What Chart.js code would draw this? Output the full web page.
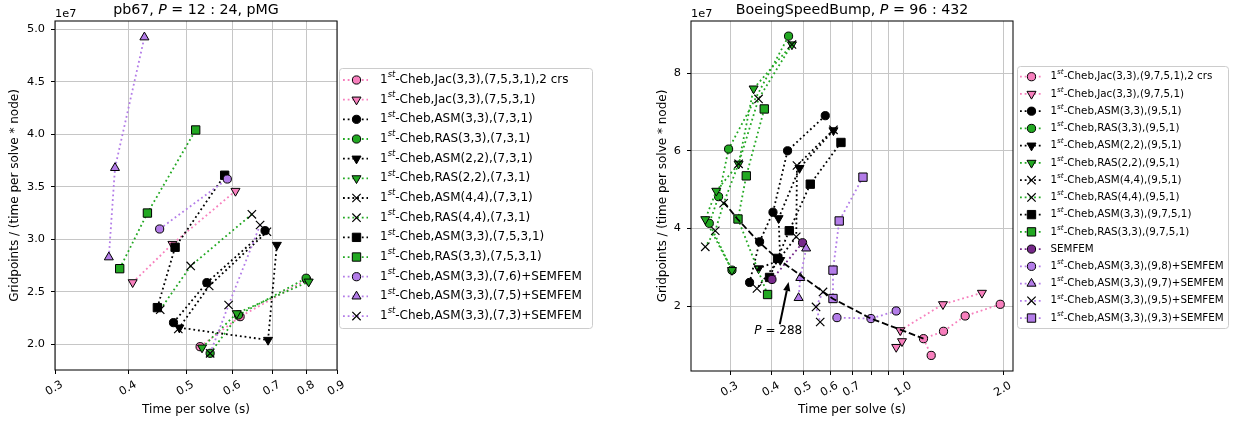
<!DOCTYPE html>
<html><head><meta charset="utf-8">
<script src="https://cdn.jsdelivr.net/npm/chart.js@4.4.0/dist/chart.umd.min.js"></script>
<style>
html,body{margin:0;padding:0;background:#fff;}
#wrap{position:relative;width:1233px;height:423px;overflow:hidden;background:#fff;}
#cA{position:absolute;left:0;top:0;}
#cB{position:absolute;left:648px;top:0;}
</style></head><body>
<div id="wrap"><canvas id="cA" width="620" height="423"></canvas><canvas id="cB" width="585" height="423"></canvas></div>
<script>
// ================= LEFT PANEL: pb67, P = 12:24, pMG  (y values in units of 1e7) =================
const pbXTicks = [0.3, 0.4, 0.5, 0.6, 0.7, 0.8, 0.9];
const pbXTickLabels = ['0.3', '0.4', '0.5', '0.6', '0.7', '0.8', '0.9'];
const pbYTicks = [2.0, 2.5, 3.0, 3.5, 4.0, 4.5, 5.0];
const pbYTickLabels = ['2.0', '2.5', '3.0', '3.5', '4.0', '4.5', '5.0'];
const pbLabels = [
  '1st-Cheb,Jac(3,3),(7,5,3,1),2 crs',
  '1st-Cheb,Jac(3,3),(7,5,3,1)',
  '1st-Cheb,ASM(3,3),(7,3,1)',
  '1st-Cheb,RAS(3,3),(7,3,1)',
  '1st-Cheb,ASM(2,2),(7,3,1)',
  '1st-Cheb,RAS(2,2),(7,3,1)',
  '1st-Cheb,ASM(4,4),(7,3,1)',
  '1st-Cheb,RAS(4,4),(7,3,1)',
  '1st-Cheb,ASM(3,3),(7,5,3,1)',
  '1st-Cheb,RAS(3,3),(7,5,3,1)',
  '1st-Cheb,ASM(3,3),(7,6)+SEMFEM',
  '1st-Cheb,ASM(3,3),(7,5)+SEMFEM',
  '1st-Cheb,ASM(3,3),(7,3)+SEMFEM'
];
const pbJac2crsX = [0.528, 0.617, 0.800], pbJac2crsY = [1.977, 2.263, 2.615];
const pbJacX     = [0.406, 0.474, 0.606], pbJacY     = [2.590, 2.955, 3.460];
const pbAsm33X   = [0.476, 0.542, 0.680], pbAsm33Y   = [2.206, 2.587, 3.082];
const pbRas33X   = [0.549, 0.613, 0.798], pbRas33Y   = [1.914, 2.279, 2.629];
const pbAsm22X   = [0.487, 0.688, 0.712], pbAsm22Y   = [2.158, 2.041, 2.946];
const pbRas22X   = [0.532, 0.609, 0.806], pbRas22Y   = [1.968, 2.295, 2.596];
const pbAsm44X   = [0.485, 0.547, 0.685], pbAsm44Y   = [2.146, 2.555, 3.072];
const pbRas44X   = [0.452, 0.509, 0.646], pbRas44Y   = [2.330, 2.746, 3.238];
const pbAsm33bX  = [0.447, 0.479, 0.581], pbAsm33bY  = [2.349, 2.924, 3.610];
const pbRas33bX  = [0.386, 0.430, 0.519], pbRas33bY  = [2.720, 3.250, 4.041];
const pbS76X     = [0.451, 0.587],        pbS76Y     = [3.098, 3.574];
const pbS75X     = [0.370, 0.379, 0.425], pbS75Y     = [2.829, 3.680, 4.924];
const pbS73X     = [0.549, 0.590, 0.667], pbS73Y     = [1.914, 2.374, 3.136];

// ================= RIGHT PANEL: BoeingSpeedBump, P = 96:432  (y values in units of 1e7) =================
const bbXTicks = [0.3, 0.4, 0.5, 0.6, 0.7, 0.8, 0.9, 1.0, 2.0];
const bbXTickLabels = ['0.3', '0.4', '0.5', '0.6', '0.7', '', '', '1.0', '2.0'];
const bbYTicks = [2, 4, 6, 8];
const bbYTickLabels = ['2', '4', '6', '8'];
const bbLabels = [
  '1st-Cheb,Jac(3,3),(9,7,5,1),2 crs',
  '1st-Cheb,Jac(3,3),(9,7,5,1)',
  '1st-Cheb,ASM(3,3),(9,5,1)',
  '1st-Cheb,RAS(3,3),(9,5,1)',
  '1st-Cheb,ASM(2,2),(9,5,1)',
  '1st-Cheb,RAS(2,2),(9,5,1)',
  '1st-Cheb,ASM(4,4),(9,5,1)',
  '1st-Cheb,RAS(4,4),(9,5,1)',
  '1st-Cheb,ASM(3,3),(9,7,5,1)',
  '1st-Cheb,RAS(3,3),(9,7,5,1)',
  'SEMFEM',
  '1st-Cheb,ASM(3,3),(9,8)+SEMFEM',
  '1st-Cheb,ASM(3,3),(9,7)+SEMFEM',
  '1st-Cheb,ASM(3,3),(9,5)+SEMFEM',
  '1st-Cheb,ASM(3,3),(9,3)+SEMFEM'
];
const bbJac2crsX = [1.954, 1.532, 1.318, 1.147, 1.210], bbJac2crsY = [2.050, 1.750, 1.355, 1.166, 0.735];
const bbJacX     = [1.721, 1.313, 0.976, 0.988, 0.949], bbJacY     = [2.343, 2.050, 1.381, 1.097, 0.950];
const bbAsm33X   = [0.580, 0.4465, 0.4035, 0.3677, 0.343], bbAsm33Y = [6.903, 6.000, 4.418, 3.659, 2.612];
const bbRas33X   = [0.4496, 0.2965, 0.2766, 0.2593, 0.3035], bbRas33Y = [8.950, 6.044, 4.820, 4.134, 2.929];
const bbAsm22X   = [0.614, 0.485, 0.4195, 0.4244, 0.365], bbAsm22Y = [6.524, 5.554, 4.263, 3.187, 2.973];
const bbRas22X   = [0.4603, 0.3527, 0.3178, 0.2722, 0.2522, 0.3035], bbRas22Y = [8.735, 7.600, 5.665, 4.968, 4.237, 2.929];
const bbAsm44X   = [0.614, 0.4766, 0.4743, 0.361], bbAsm44Y = [6.540, 5.621, 3.788, 2.457];
const bbRas44X   = [0.4603, 0.365, 0.3178, 0.2864, 0.2703, 0.2522], bbRas44Y = [8.735, 7.334, 5.665, 4.650, 3.943, 3.530];
const bbAsm33bX  = [0.6468, 0.5227, 0.4518, 0.4166, 0.394], bbAsm33bY = [6.214, 5.141, 3.943, 3.231, 2.741];
const bbRas33bX  = [0.3798, 0.3352, 0.3165, 0.3886], bbRas33bY = [7.076, 5.355, 4.245, 2.302];
const bbSemfemX  = [0.4955, 0.4007], bbSemfemY = [3.634, 2.689];
const bbS98X     = [0.949, 0.7965, 0.629], bbS98Y = [1.879, 1.683, 1.708];
const bbS97X     = [0.508, 0.4876, 0.482], bbS97Y = [3.489, 2.730, 2.214];
const bbS95X     = [0.571, 0.544, 0.560], bbS95Y = [2.369, 1.982, 1.595];
const bbS93X     = [0.7535, 0.639, 0.612, 0.612], bbS93Y = [5.321, 4.194, 2.929, 2.199];
const bbP288X    = [0.2864, 0.3153, 0.3668, 0.4153, 0.567, 0.610, 0.7965, 0.976, 1.147];
const bbP288Y    = [4.690, 4.245, 3.644, 3.231, 2.395, 2.199, 1.683, 1.400, 1.166];
const bbAnnotText = 'P = 288';
const bbAnnotTextXY = [0.4186, 1.355];
const bbAnnotTipXY = [0.4496, 2.627];

// ================= styling =================
const FONT = 'DejaVu Sans';
Chart.defaults.font.family = "'DejaVu Sans', sans-serif";
Chart.defaults.color = '#000';
const PINK = '#f77fbd', GREEN = '#22a822', PURPLE = '#b37ce8', DPURPLE = '#76288a', BLACK = '#000000';
const GRID = '#c6c6c6';
const DOT = [1.8, 2.9], DASH = [6.7, 2.9];
const TICKFONT = 11.3;
const MARKERS = {
  o:   {style: 'circle',   r: 4.1, rot: 0,   bw: 1},
  v:   {style: 'triangle', r: 5.2, rot: 180, bw: 1},
  '^': {style: 'triangle', r: 5.2, rot: 0,   bw: 1},
  s:   {style: 'rect',     r: 5.9, rot: 0,   bw: 1},
  x:   {style: 'crossRot', r: 5.9, rot: 0,   bw: 1.2},
  none:{style: 'circle',   r: 0,   rot: 0,   bw: 0}
};

const pbSeries = [
  {label: pbLabels[0],  x: pbJac2crsX, y: pbJac2crsY, line: PINK,   face: PINK,   mk: 'o'},
  {label: pbLabels[1],  x: pbJacX,     y: pbJacY,     line: PINK,   face: PINK,   mk: 'v'},
  {label: pbLabels[2],  x: pbAsm33X,   y: pbAsm33Y,   line: BLACK,  face: BLACK,  mk: 'o'},
  {label: pbLabels[3],  x: pbRas33X,   y: pbRas33Y,   line: GREEN,  face: GREEN,  mk: 'o'},
  {label: pbLabels[4],  x: pbAsm22X,   y: pbAsm22Y,   line: BLACK,  face: BLACK,  mk: 'v'},
  {label: pbLabels[5],  x: pbRas22X,   y: pbRas22Y,   line: GREEN,  face: GREEN,  mk: 'v'},
  {label: pbLabels[6],  x: pbAsm44X,   y: pbAsm44Y,   line: BLACK,  face: BLACK,  mk: 'x'},
  {label: pbLabels[7],  x: pbRas44X,   y: pbRas44Y,   line: GREEN,  face: GREEN,  mk: 'x'},
  {label: pbLabels[8],  x: pbAsm33bX,  y: pbAsm33bY,  line: BLACK,  face: BLACK,  mk: 's'},
  {label: pbLabels[9],  x: pbRas33bX,  y: pbRas33bY,  line: GREEN,  face: GREEN,  mk: 's'},
  {label: pbLabels[10], x: pbS76X,     y: pbS76Y,     line: PURPLE, face: PURPLE, mk: 'o'},
  {label: pbLabels[11], x: pbS75X,     y: pbS75Y,     line: PURPLE, face: PURPLE, mk: '^'},
  {label: pbLabels[12], x: pbS73X,     y: pbS73Y,     line: PURPLE, face: PURPLE, mk: 'x'}
];
const bbSeries = [
  {label: bbLabels[0],  x: bbJac2crsX, y: bbJac2crsY, line: PINK,    face: PINK,    mk: 'o'},
  {label: bbLabels[1],  x: bbJacX,     y: bbJacY,     line: PINK,    face: PINK,    mk: 'v'},
  {label: bbLabels[2],  x: bbAsm33X,   y: bbAsm33Y,   line: BLACK,   face: BLACK,   mk: 'o'},
  {label: bbLabels[3],  x: bbRas33X,   y: bbRas33Y,   line: GREEN,   face: GREEN,   mk: 'o'},
  {label: bbLabels[4],  x: bbAsm22X,   y: bbAsm22Y,   line: BLACK,   face: BLACK,   mk: 'v'},
  {label: bbLabels[5],  x: bbRas22X,   y: bbRas22Y,   line: GREEN,   face: GREEN,   mk: 'v'},
  {label: bbLabels[6],  x: bbAsm44X,   y: bbAsm44Y,   line: BLACK,   face: BLACK,   mk: 'x'},
  {label: bbLabels[7],  x: bbRas44X,   y: bbRas44Y,   line: GREEN,   face: GREEN,   mk: 'x'},
  {label: bbLabels[8],  x: bbAsm33bX,  y: bbAsm33bY,  line: BLACK,   face: BLACK,   mk: 's'},
  {label: bbLabels[9],  x: bbRas33bX,  y: bbRas33bY,  line: GREEN,   face: GREEN,   mk: 's'},
  {label: bbLabels[10], x: bbSemfemX,  y: bbSemfemY,  line: DPURPLE, face: DPURPLE, mk: 'o'},
  {label: bbLabels[11], x: bbS98X,     y: bbS98Y,     line: PURPLE,  face: PURPLE,  mk: 'o'},
  {label: bbLabels[12], x: bbS97X,     y: bbS97Y,     line: PURPLE,  face: PURPLE,  mk: '^'},
  {label: bbLabels[13], x: bbS95X,     y: bbS95Y,     line: PURPLE,  face: PURPLE,  mk: 'x'},
  {label: bbLabels[14], x: bbS93X,     y: bbS93Y,     line: PURPLE,  face: PURPLE,  mk: 's'},
  {label: 'P = 288',    x: bbP288X,    y: bbP288Y,    line: BLACK,   face: BLACK,   mk: 'none', dash: DASH, noLegend: true, top: true}
];

function buildDatasets(series) {
  const n = series.length;
  return series.map((s, i) => {
    const m = MARKERS[s.mk];
    return {
      label: s.label,
      data: s.x.map((v, k) => ({x: v, y: s.y[k]})),
      showLine: true,
      borderColor: s.line,
      backgroundColor: s.face,
      borderWidth: 1.8,
      borderDash: s.dash || DOT,
      borderCapStyle: 'butt',
      pointStyle: m.style,
      pointRadius: m.r,
      pointHoverRadius: m.r,
      pointRotation: m.rot,
      pointBackgroundColor: s.face,
      pointBorderColor: '#000',
      pointBorderWidth: m.bw,
      order: s.top ? -1 : n - i,
      noLegend: !!s.noLegend
    };
  });
}

// rich text helper (italic / superscript pieces)
function drawRich(ctx, parts, x, y, size, align, baseline) {
  const fonts = parts.map(p => (p.it ? 'italic ' : '') + (p.sup ? size * 0.7 : size) + 'px "' + FONT + '"');
  const widths = parts.map((p, i) => { ctx.font = fonts[i]; return ctx.measureText(p.t).width; });
  const total = widths.reduce((a, b) => a + b, 0);
  let cx = align === 'center' ? x - total / 2 : x;
  ctx.textAlign = 'left';
  ctx.textBaseline = baseline || 'middle';
  ctx.fillStyle = '#000';
  parts.forEach((p, i) => {
    ctx.font = fonts[i];
    ctx.fillText(p.t, cx, p.sup ? y - size * 0.4 : y);
    cx += widths[i];
  });
}
function labelParts(label) {
  if (label.startsWith('1st')) return [{t: '1'}, {t: 'st', it: true, sup: true}, {t: label.slice(3)}];
  return [{t: label}];
}
function mathParts(text) { // leading italic P
  return [{t: text.charAt(0), it: true}, {t: text.slice(1)}];
}

function drawLegend(chart, L) {
  const ctx = chart.ctx;
  ctx.save();
  ctx.beginPath();
  if (ctx.roundRect) ctx.roundRect(L.x + 0.5, L.y + 0.5, L.w, L.h, 3); else ctx.rect(L.x + 0.5, L.y + 0.5, L.w, L.h);
  ctx.fillStyle = 'rgba(255,255,255,0.8)';
  ctx.fill();
  ctx.strokeStyle = '#cccccc';
  ctx.lineWidth = 1;
  ctx.stroke();
  let k = 0;
  chart.data.datasets.forEach(ds => {
    if (ds.noLegend) return;
    const y = L.y + L.first + k * L.step;
    k++;
    ctx.save();
    ctx.strokeStyle = ds.borderColor;
    ctx.lineWidth = ds.borderWidth;
    ctx.setLineDash(ds.borderDash);
    ctx.lineCap = 'butt';
    ctx.beginPath();
    ctx.moveTo(L.x + L.lx0, y);
    ctx.lineTo(L.x + L.lx1, y);
    ctx.stroke();
    ctx.setLineDash([]);
    ctx.fillStyle = ds.pointBackgroundColor;
    ctx.strokeStyle = ds.pointBorderColor;
    ctx.lineWidth = ds.pointBorderWidth;
    Chart.helpers.drawPoint(ctx, {pointStyle: ds.pointStyle, radius: ds.pointRadius, borderWidth: ds.pointBorderWidth, rotation: ds.pointRotation}, L.x + L.mx, y);
    ctx.restore();
    drawRich(ctx, labelParts(ds.label), L.x + L.tx, y, L.font, 'left', 'middle');
  });
  ctx.restore();
}

function panelPlugin(cfg) {
  return {
    id: 'panel' + cfg.id,
    afterDatasetsDraw(chart) {
      const ctx = chart.ctx, a = chart.chartArea;
      const xs = chart.scales.x, ys = chart.scales.y;
      ctx.save();
      if (cfg.annot) {
        const tx = xs.getPixelForValue(cfg.annot.text[0]), ty = ys.getPixelForValue(cfg.annot.text[1]);
        const px = xs.getPixelForValue(cfg.annot.tip[0]), py = ys.getPixelForValue(cfg.annot.tip[1]);
        drawRich(ctx, mathParts(cfg.annot.label), tx, ty, 12, 'center', 'middle');
        const sx = tx + 1.5, sy = ty - 7;
        const ang = Math.atan2(py - sy, px - sx);
        const hl = 9, hw = 3.6;
        const bx = px - hl * Math.cos(ang), by = py - hl * Math.sin(ang);
        ctx.strokeStyle = '#000'; ctx.fillStyle = '#000'; ctx.lineWidth = 2;
        ctx.beginPath(); ctx.moveTo(sx, sy); ctx.lineTo(bx, by); ctx.stroke();
        ctx.beginPath();
        ctx.moveTo(px, py);
        ctx.lineTo(bx + hw * Math.sin(ang), by - hw * Math.cos(ang));
        ctx.lineTo(bx - hw * Math.sin(ang), by + hw * Math.cos(ang));
        ctx.closePath(); ctx.fill();
      }
      // axes frame (spines)
      ctx.strokeStyle = '#111';
      ctx.lineWidth = 1.1;
      ctx.strokeRect(a.left, a.top, a.right - a.left, a.bottom - a.top);
      // title
      drawRich(ctx, cfg.title, (a.left + a.right) / 2, 13.5, 14.2, 'center', 'alphabetic');
      // offset text
      ctx.font = TICKFONT + 'px "' + FONT + '"';
      ctx.fillStyle = '#000';
      ctx.textAlign = 'left';
      ctx.textBaseline = 'alphabetic';
      ctx.fillText('1e7', a.left, 17);
      ctx.restore();
    },
    afterDraw(chart) {
      drawLegend(chart, cfg.legend);
    }
  };
}

function makeChart(canvasId, cfg) {
  return new Chart(document.getElementById(canvasId), {
    type: 'scatter',
    data: {datasets: buildDatasets(cfg.series)},
    options: {
      responsive: false,
      animation: false,
      events: [],
      layout: {padding: {top: 21, right: cfg.padRight, bottom: 0, left: 0}},
      plugins: {legend: {display: false}, tooltip: {enabled: false}, title: {display: false}},
      scales: {
        x: {
          type: 'logarithmic', min: cfg.xMin, max: cfg.xMax,
          afterBuildTicks: s => { s.ticks = cfg.xTicks.map(v => ({value: v})); },
          afterFit: s => { s.height = cfg.xH; },
          ticks: {autoSkip: false, minRotation: 30, maxRotation: 30, labelOffset: 7, padding: 4,
                  font: {size: TICKFONT}, color: '#000', callback: (v, i) => cfg.xTickLabels[i]},
          grid: {color: GRID, lineWidth: 1, tickLength: 4, tickColor: '#000', tickWidth: 1},
          border: {display: false},
          title: {display: true, text: 'Time per solve (s)', font: {size: 12}, color: '#000', padding: {top: 0, bottom: 6}}
        },
        y: {
          type: 'linear', min: cfg.yMin, max: cfg.yMax,
          afterBuildTicks: s => { s.ticks = cfg.yTicks.map(v => ({value: v})); },
          afterFit: s => { s.width = cfg.yW; },
          ticks: {font: {size: TICKFONT}, color: '#000', padding: 6, callback: (v, i) => cfg.yTickLabels[i]},
          grid: {color: GRID, lineWidth: 1, tickLength: 4, tickColor: '#000', tickWidth: 1},
          border: {display: false},
          title: {display: true, text: 'Gridpoints / (time per solve * node)', font: {size: 12}, color: '#000', padding: {top: 8, bottom: 0}}
        }
      }
    },
    plugins: [panelPlugin(cfg)]
  });
}

makeChart('cA', {
  id: 'A', series: pbSeries,
  xMin: 0.3, xMax: 0.9, yMin: 1.755, yMax: 5.079,
  xTicks: pbXTicks, xTickLabels: pbXTickLabels, yTicks: pbYTicks, yTickLabels: pbYTickLabels,
  padRight: 283, yW: 55, xH: 53,
  title: [{t: 'pb67, '}, {t: 'P', it: true}, {t: ' = 12 : 24, pMG'}],
  legend: {x: 339, y: 68, w: 253, h: 260, first: 12, step: 19.67, lx0: 4, lx1: 29, mx: 17.5, tx: 41, font: 12}
});
makeChart('cB', {
  id: 'B', series: bbSeries,
  xMin: 0.2284, xMax: 2.135, yMin: 0.334, yMax: 9.339,
  xTicks: bbXTicks, xTickLabels: bbXTickLabels, yTicks: bbYTicks, yTickLabels: bbYTickLabels,
  padRight: 220, yW: 43, xH: 52,
  title: [{t: 'BoeingSpeedBump, '}, {t: 'P', it: true}, {t: ' = 96 : 432'}],
  legend: {x: 369, y: 66, w: 211, h: 262, first: 10.7, step: 17.24, lx0: 3, lx1: 26, mx: 14.5, tx: 33.5, font: 10.3},
  annot: {label: bbAnnotText, text: bbAnnotTextXY, tip: bbAnnotTipXY}
});
</script>
</body></html>
